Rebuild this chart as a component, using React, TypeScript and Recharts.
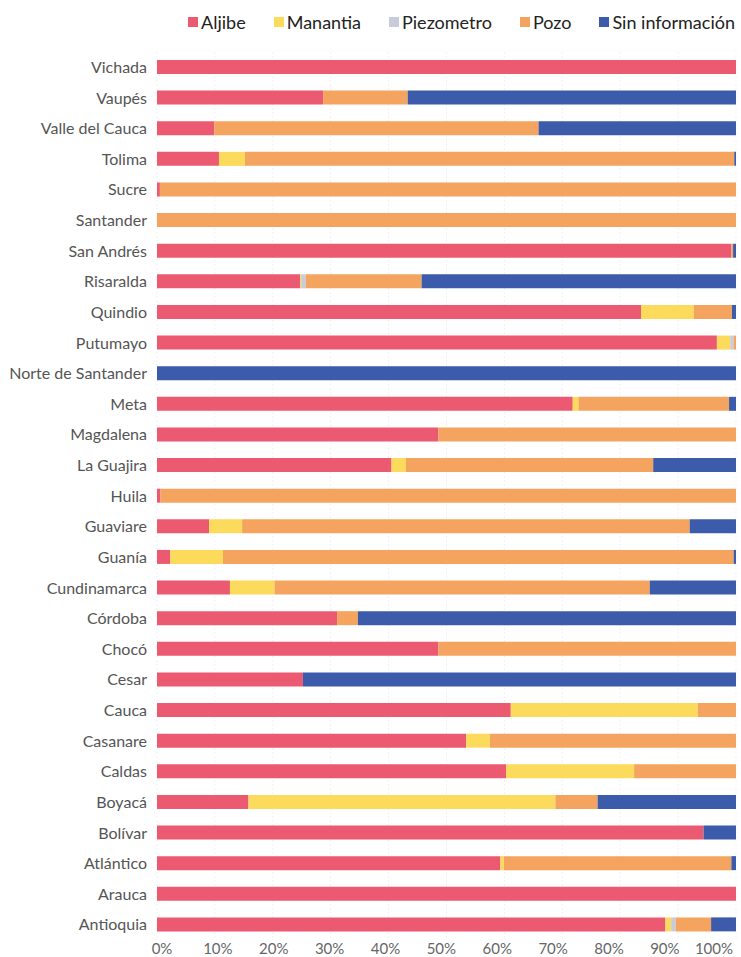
import React from 'react';
import { BarChart, Bar, XAxis, YAxis, CartesianGrid, Legend } from 'recharts';

// departamentos, top to bottom
const departamentos = [
  'Vichada', 'Vaupés', 'Valle del Cauca', 'Tolima', 'Sucre', 'Santander', 'San Andrés',
  'Risaralda', 'Quindio', 'Putumayo', 'Norte de Santander', 'Meta', 'Magdalena',
  'La Guajira', 'Huila', 'Guaviare', 'Guanía', 'Cundinamarca', 'Córdoba', 'Chocó',
  'Cesar', 'Cauca', 'Casanare', 'Caldas', 'Boyacá', 'Bolívar', 'Atlántico', 'Arauca',
  'Antioquia',
];

// percentages per source
const aljibe = [100, 28.7, 9.9, 10.7, 0.5, 0, 99.2, 24.7, 83.6, 96.7, 0, 71.8, 48.6, 40.5, 0.6, 9.0, 2.3, 12.6, 31.1, 48.6, 25.2, 61.1, 53.4, 60.3, 15.8, 94.4, 59.3, 100, 87.8];
const manantia = [0, 0, 0, 4.5, 0, 0, 0, 0.2, 9.1, 2.3, 0, 1.0, 0, 2.5, 0, 5.7, 9.1, 7.7, 0, 0, 0, 32.3, 4.1, 22.1, 53.0, 0, 0.6, 0, 1.0];
const piezometro = [0, 0, 0, 0, 0, 0, 0, 0.8, 0, 0.6, 0, 0, 0, 0, 0, 0, 0, 0, 0, 0, 0, 0, 0, 0, 0, 0, 0, 0, 0.8];
const pozo = [0, 14.6, 56.0, 84.5, 99.5, 100, 0.3, 20.0, 6.6, 0.4, 0, 26.0, 51.4, 42.7, 99.4, 77.3, 88.2, 64.8, 3.6, 51.4, 0, 6.6, 42.5, 17.6, 7.3, 0, 39.3, 0, 6.1];
const sinInfo = [0, 56.7, 34.1, 0.3, 0, 0, 0.5, 54.3, 0.7, 0, 100, 1.2, 0, 14.3, 0, 8.0, 0.4, 14.9, 65.3, 0, 74.8, 0, 0, 0, 23.9, 5.6, 0.8, 0, 4.3];

const xTicks = [0, 10, 20, 30, 40, 50, 60, 70, 80, 90, 100];

const series = [
  { key: 'aljibe', name: 'Aljibe', color: '#EB5A70' },
  { key: 'manantia', name: 'Manantia', color: '#FCDA5C' },
  { key: 'piezometro', name: 'Piezometro', color: '#C8CCDA' },
  { key: 'pozo', name: 'Pozo', color: '#F4A45E' },
  { key: 'sinInfo', name: 'Sin información', color: '#3C5BAA' },
];

const data = departamentos.map((name, i) => ({
  name,
  aljibe: aljibe[i],
  manantia: manantia[i],
  piezometro: piezometro[i],
  pozo: pozo[i],
  sinInfo: sinInfo[i],
}));

const LegendContent = () => (
  <div style={{ display: 'flex', justifyContent: 'flex-end', gap: 28, paddingRight: 6, height: 24, alignItems: 'center' }}>
    {series.map((s) => (
      <div key={s.key} style={{ display: 'flex', alignItems: 'center', gap: 3 }}>
        <span style={{ width: 10, height: 10, background: s.color, display: 'inline-block' }} />
        <span style={{ fontSize: 18, color: '#222', fontFamily: 'Lato, sans-serif' }}>{s.name}</span>
      </div>
    ))}
  </div>
);

// labels sit a little inside the bar range, so the last one stays on the page
const XTick = ({ x, y, payload }: any) => {
  const lx = 162 + (x - 157) * 0.965;
  return (
    <text x={lx} y={y} dy="0.71em" textAnchor="middle" fontSize={15} fill="#666" fontFamily="Lato, sans-serif">
      {`${payload.value}%`}
    </text>
  );
};

export default function App() {
  return (
    <div style={{ position: 'absolute', left: 0, top: 0, background: '#fff' }}>
      <BarChart
        width={741}
        height={957}
        data={data}
        layout="vertical"
        margin={{ top: 28, right: 5, bottom: 0, left: 0 }}
        barSize={14}
      >
        <CartesianGrid horizontal={false} stroke="#f1f1f1" strokeDasharray="2 2" />
        <XAxis
          type="number"
          domain={[0, 100]}
          ticks={xTicks}
          axisLine={false}
          tickLine={false}
          tickSize={0}
          tickMargin={3}
          height={17}
          tick={<XTick />}
        />
        <YAxis
          type="category"
          dataKey="name"
          width={157}
          interval={0}
          axisLine={false}
          tickLine={false}
          tickMargin={4}
          tick={{ fontSize: 16, fill: '#555', fontFamily: 'Lato, sans-serif' }}
        />
        <Legend
          verticalAlign="top"
          align="right"
          content={<LegendContent />}
          wrapperStyle={{ top: 10, right: 0, width: 741 }}
        />
        {series.map((s) => (
          <Bar
            key={s.key}
            dataKey={s.key}
            name={s.name}
            stackId="a"
            fill={s.color}
            isAnimationActive={false}
          />
        ))}
      </BarChart>
    </div>
  );
}
